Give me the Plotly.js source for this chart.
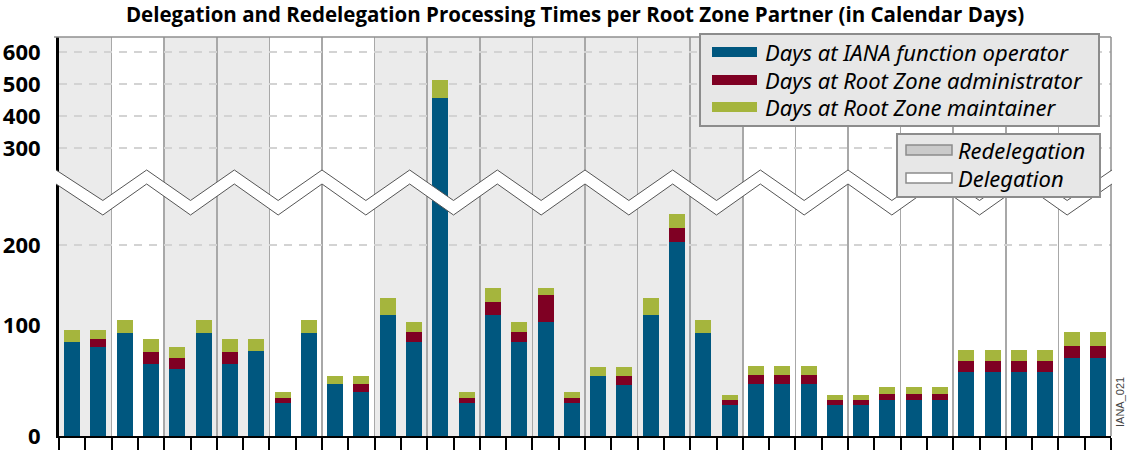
<!DOCTYPE html>
<html>
<head>
<meta charset="utf-8">
<script src="https://cdn.plot.ly/plotly-3.0.1.min.js"></script>
<style>html,body{margin:0;padding:0;background:#fff;}#chart{width:1128px;height:453px;}</style>
</head>
<body>
<div id="chart"></div>
<script>
// ---- data ----
const partners = [0,1,2,3,4,5,6,7,8,9,10,11,12,13,14,15,16,17,18,19,20,21,22,23,24,25,26,27,28,29,30,31,32,33,34,35,36,37,38,39];
const daysIANA = [85,80,93,65,60,93,65,76.5,29.5,93,46.7,40,112,84.6,458,29.5,112,84.6,103.4,29.5,53.9,46.4,112,204,93,27.7,46.7,46.7,46.7,27.7,27.7,32.2,32.2,32.2,57.8,57.8,57.8,57.8,70,70];
const daysAdmin = [0,7.6,0,11,10,0,11,0,4.8,0,0,6.6,0,9.1,0,4.8,16.7,9.1,34.2,4.8,0,7.5,0,16.7,0,4.3,7.9,7.9,7.9,4.3,4.3,5.5,5.5,5.5,9.7,9.7,9.7,9.7,11.4,11.4];
const daysMaint = [10.3,7.8,12.9,11,10.5,12.9,11,11,5.2,12.9,7.2,7.2,21.3,9.7,55,5.2,17.5,9.7,8.8,5.2,7.9,7.9,21.3,17.5,12.9,5,8.1,8.1,8.1,5,5,6,6,6,9.9,9.9,9.9,9.9,12.1,12.1];
// type of each pair of bars: R = Redelegation, D = Delegation
const groupType = ['R','D','R','R','D','D','R','R','R','R','R','R','R','D','D','D','D','D','D','D'];
const seriesNames = ['Days at IANA function operator','Days at Root Zone administrator','Days at Root Zone maintainer'];
const groupNames = ['Redelegation','Delegation'];
const lowTicks = [0,100];
const midTicks = [200];
const highTicks = [300,400,500,600];
const title = 'Delegation and Redelegation Processing Times per Root Zone Partner (in Calendar Days)';

// ---- styling ----
const colors = ['#00577f','#7f0023','#a5b53d'];
const L = 59, R = 1111, T = 37, B = 436;
const px = x => (x - L) / (R - L);
const py = y => (B - y) / (B - T);
const d1 = py(325), d2 = py(168);

const series = [daysIANA, daysAdmin, daysMaint];
const axesIds = ['y','y2','y3'];
const traces = [];
axesIds.forEach(ay => {
  series.forEach((s, i) => {
    traces.push({type:'bar', x: partners, y: s, xaxis:'x', yaxis: ay, name: seriesNames[i],
      marker:{color: colors[i], line:{width:0}}, showlegend:false, hoverinfo:'y+name'});
  });
});

const tickFont = {family:'Open Sans, DejaVu Sans, sans-serif', size:22, color:'#000', weight:700};
const gridDash = '8px,7px';
function yax(domain, range, tv){
  return {domain, range, anchor:'x', tickvals: tv, ticktext: tv.map(String), showgrid:true, gridcolor:'#d3d3d3',
    gridwidth:2, griddash:gridDash, zeroline:false, showline:true, linecolor:'#000', linewidth:3, ticks:'',
    tickfont: tickFont, ticklabelstandoff:11, fixedrange:true};
}

const shapes = [];
// background shading for redelegation groups
groupType.forEach((t, g) => {
  if (t === 'R') shapes.push({type:'rect', xref:'x', yref:'paper', x0: 2*g-0.5, x1: 2*g+1.5, y0:0, y1:1,
    fillcolor:'#ebebeb', line:{width:0}, layer:'below'});
});
// top and right border
shapes.push({type:'line', xref:'paper', yref:'paper', x0:px(54), x1:1, y0:1, y1:1, line:{color:'#8f8f8f', width:1.5}, layer:'above'});
shapes.push({type:'line', xref:'paper', yref:'paper', x0:1, x1:1, y0:0, y1:1, line:{color:'#8f8f8f', width:1.5}, layer:'above'});

// axis break zigzag
const nZ = 12, step = (R - L) / nZ;
function zig(yPeak, yValley){
  const pts = [];
  for (let k = 0; k <= nZ; k++) {
    pts.push([L + k*step, yPeak]);
    if (k < nZ) pts.push([L + k*step + step/2, yValley]);
  }
  pts[0][0] = 56; pts[pts.length-1][0] = 1112;
  return pts;
}
const upZ = zig(170, 200.5), loZ = zig(184, 215);
const toPath = pts => pts.map((p,i)=> (i?'L':'M') + px(p[0]).toFixed(5) + ',' + py(p[1]).toFixed(5)).join(' ');
const bandPts = upZ.concat(loZ.slice().reverse());
shapes.push({type:'path', xref:'paper', yref:'paper', path: toPath(bandPts) + ' Z', fillcolor:'#fff', line:{width:0}, layer:'above'});
shapes.push({type:'path', xref:'paper', yref:'paper', path: toPath(upZ), line:{color:'#555', width:1}, layer:'above'});
shapes.push({type:'path', xref:'paper', yref:'paper', path: toPath(loZ), line:{color:'#555', width:1}, layer:'above'});

// legend 1 (series)
const annotations = [];
const legFont = {family:'Noto Sans, DejaVu Sans, sans-serif', size:22, color:'#000', style:'italic'};
shapes.push({type:'rect', xref:'paper', yref:'paper', x0:px(700), x1:px(1099), y0:py(34), y1:py(126),
  fillcolor:'#e7e7e7', line:{color:'#8c8c8c', width:2}, layer:'above'});
const rowY = [52, 80, 107];
seriesNames.forEach((n, i) => {
  shapes.push({type:'rect', xref:'paper', yref:'paper', x0:px(712), x1:px(757), y0:py(rowY[i]-5), y1:py(rowY[i]+5),
    fillcolor: colors[i], line:{width:0}, layer:'above'});
  annotations.push({xref:'paper', yref:'paper', x:px(763), y:py(rowY[i]), xanchor:'left', yanchor:'middle',
    text:n, showarrow:false, font:legFont});
});
// legend 2 (shading)
shapes.push({type:'rect', xref:'paper', yref:'paper', x0:px(897), x1:px(1100), y0:py(134), y1:py(197),
  fillcolor:'#e7e7e7', line:{color:'#8c8c8c', width:2}, layer:'above'});
const row2Y = [150, 178];
const row2Fill = ['#cacaca', '#ffffff'];
groupNames.forEach((n, i) => {
  shapes.push({type:'rect', xref:'paper', yref:'paper', x0:px(906), x1:px(952), y0:py(row2Y[i]-5), y1:py(row2Y[i]+5),
    fillcolor: row2Fill[i], line:{color:'#8c8c8c', width:1.5}, layer:'above'});
  annotations.push({xref:'paper', yref:'paper', x:px(956), y:py(row2Y[i]), xanchor:'left', yanchor:'middle',
    text:n, showarrow:false, font:legFont});
});
annotations.push({xref:'paper', yref:'paper', x:px(1120), y:py(402), xanchor:'center', yanchor:'middle',
  text:'IANA_021', textangle:-90, showarrow:false, font:{family:'Liberation Sans, sans-serif', size:11, color:'#444'}});

const layout = {
  width:1128, height:453,
  margin:{l:L, r:1128-R, t:T, b:453-B, pad:0},
  paper_bgcolor:'#fff', plot_bgcolor:'rgba(0,0,0,0)',
  title:{text:title, x:575/1128, xanchor:'center', y:1-15/453, yanchor:'middle', yref:'container',
    font:{family:'Open Sans, DejaVu Sans, sans-serif', size:20.5, color:'#000', weight:700}},
  barmode:'stack', bargap:0.39,
  showlegend:false,
  xaxis:{range:[-0.5,39.5], anchor:'y', tickmode:'linear', tick0:-0.5, dtick:2, showticklabels:false,
    ticks:'outside', ticklen:12, tickwidth:2, tickcolor:'#000', showgrid:true, gridcolor:'#a8a8a8', gridwidth:1.5,
    showline:true, linecolor:'#000', linewidth:2, zeroline:false, fixedrange:true,
    minor:{tickmode:'linear', tick0:-0.5, dtick:1, ticks:'outside', ticklen:12, tickwidth:2, tickcolor:'#000', showgrid:false}},
  yaxis: yax([0, d1], [0, 100], lowTicks),
  yaxis2: yax([d1, d2], [100, 100 + 157/0.8], midTicks),
  yaxis3: yax([d2, 1], [600 - (168-52)/0.321, 600 + (52-37)/0.321], highTicks),
  shapes, annotations
};
Plotly.newPlot('chart', traces, layout, {displayModeBar:false, staticPlot:true});
</script>
</body>
</html>
